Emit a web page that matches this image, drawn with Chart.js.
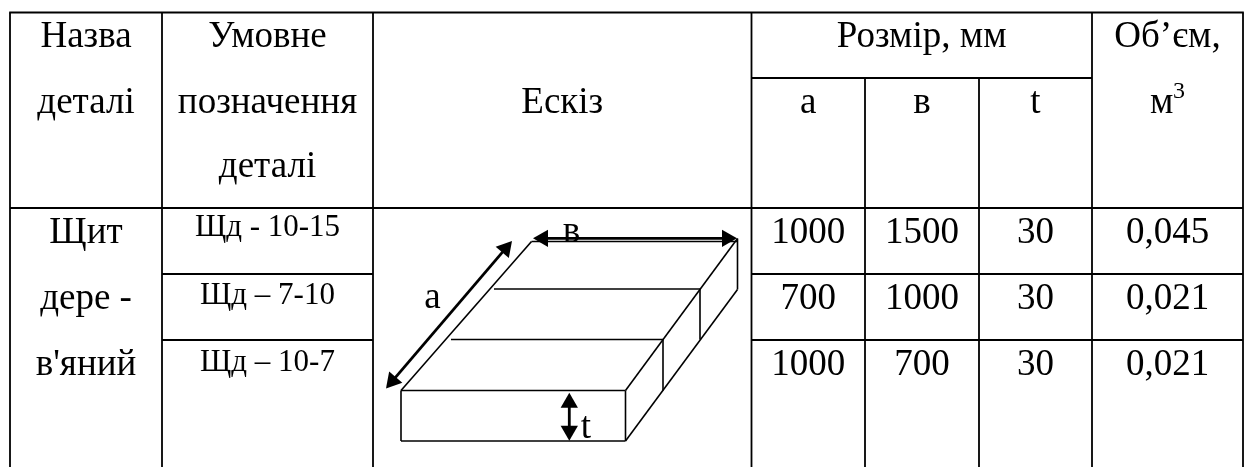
<!DOCTYPE html>
<html>
<head>
<meta charset="utf-8">
<title>Щит дерев'яний</title>
<script src="https://cdn.jsdelivr.net/npm/chart.js@4"></script>
<style>
    html, body { margin: 0; padding: 0; background: #fff; overflow: hidden; }
    canvas { display: block; }
</style>
</head>
<body>
<canvas id="tableChart" width="1246" height="467"></canvas>
<script>
// table contents
const headName = ['Назва', 'деталі'];
const headCode = ['Умовне', 'позначення', 'деталі'];
const headSketch = 'Ескіз';
const headSize = 'Розмір, мм';
const headSizeCols = ['a', 'в', 't'];
const headVolume = ['Об’єм,', 'м'];
const headVolumePower = '3';
const partName = ['Щит', 'дере -', 'в\'яний'];
const partCodes = ['Щд - 10-15', 'Щд – 7-10', 'Щд – 10-7'];
const sizeA = ['1000', '700', '1000'];
const sizeB = ['1500', '1000', '700'];
const sizeT = ['30', '30', '30'];
const volumes = ['0,045', '0,021', '0,021'];

// layout on the chart's own x/y scales
const colEdges = [10, 162, 373, 751.5, 865, 979, 1092, 1243];
const rowEdges = [12.5, 78, 208, 274, 340, 467];
const FONT = '"Liberation Serif", "Times New Roman", serif';
const BIG = 37, SMALL = 31;

function seg(x1, y1, x2, y2) {
    return [{ x: x1, y: y1 }, { x: x2, y: y2 }];
}

const c = colEdges, r = rowEdges;
const gridLines = [
    seg(c[0] - 0.8, r[0], c[7] + 0.8, r[0]),
    seg(c[3], r[1], c[6], r[1]),
    seg(c[0], r[2], c[7], r[2]),
    seg(c[1], r[3], c[2], r[3]),
    seg(c[3], r[3], c[7], r[3]),
    seg(c[1], r[4], c[2], r[4]),
    seg(c[3], r[4], c[7], r[4]),
    seg(c[0], r[0], c[0], r[5]),
    seg(c[1], r[0], c[1], r[5]),
    seg(c[2], r[0], c[2], r[5]),
    seg(c[3], r[0], c[3], r[5]),
    seg(c[4], r[1], c[4], r[5]),
    seg(c[5], r[1], c[5], r[5]),
    seg(c[6], r[0], c[6], r[5]),
    seg(c[7], r[0], c[7], r[5])
];

// the board sketch
const sketchLines = [
    seg(531.5, 241.5, 737.5, 241.5),
    seg(531.5, 241.5, 401, 390.5),
    seg(401, 390.5, 625.5, 390.5),
    seg(401, 390.5, 401, 441),
    seg(401, 441, 625.5, 441),
    seg(625.5, 390.5, 625.5, 441),
    seg(625.5, 390.5, 737.5, 238.5),
    seg(625.5, 441, 737.5, 289.5),
    seg(737.5, 238.5, 737.5, 289.5),
    seg(494, 289, 700, 289),
    seg(700, 289, 700, 339.5),
    seg(451, 339.5, 663, 339.5),
    seg(663, 339.5, 663, 390.5)
];
const arrowShafts = [
    seg(392.5, 380.9, 505.5, 248.6),
    seg(543, 238.3, 727, 238.3),
    seg(569.3, 402.7, 569.3, 430.7)
];
const arrowHeads = [
    { x: 392.5, y: 380.9, angle: 220.5 },
    { x: 505.5, y: 248.6, angle: 40.5 },
    { x: 543, y: 238.3, angle: 270 },
    { x: 727, y: 238.3, angle: 90 },
    { x: 569.3, y: 402.7, angle: 0 },
    { x: 569.3, y: 430.7, angle: 180 }
];

function lineSet(points, width) {
    return {
        type: 'scatter',
        data: points,
        showLine: true,
        borderColor: '#000',
        borderWidth: width,
        pointRadius: 0
    };
}

const cellText = [];
function put(text, x, y, size, align) {
    cellText.push({ text, x, y, size, align: align || 'center' });
}
function mid(i, j) {
    return (colEdges[i] + colEdges[j]) / 2;
}

headName.forEach((t, i) => put(t, mid(0, 1), [47, 112.5][i], BIG));
headCode.forEach((t, i) => put(t, mid(1, 2), [47, 112.5, 177][i], BIG));
put(headSketch, mid(2, 3), 112.5, BIG);
put(headSize, mid(3, 6), 47, BIG);
headSizeCols.forEach((t, i) => put(t, mid(3 + i, 4 + i), 112.5, BIG));
put(headVolume[0], mid(6, 7), 47, BIG);
put(headVolume[1], 1150, 112.5, BIG, 'left');
put(headVolumePower, 1173, 98, 24, 'left');

const rowBase = [243, 309, 375];
partName.forEach((t, i) => put(t, mid(0, 1), rowBase[i], BIG));
partCodes.forEach((t, i) => put(t, mid(1, 2), [236, 304, 370.5][i], SMALL));
sizeA.forEach((t, i) => put(t, mid(3, 4), rowBase[i], BIG));
sizeB.forEach((t, i) => put(t, mid(4, 5), rowBase[i], BIG));
sizeT.forEach((t, i) => put(t, mid(5, 6), rowBase[i], BIG));
volumes.forEach((t, i) => put(t, mid(6, 7), rowBase[i], BIG));

// labels inside the sketch
put('a', 432.5, 308, BIG);
put('в', 571.5, 241.5, BIG);
put('t', 586, 438, BIG);

const tableText = {
    id: 'tableText',
    afterDatasetsDraw(chart) {
        const ctx = chart.ctx;
        const xs = chart.scales.x, ys = chart.scales.y;
        ctx.save();
        ctx.fillStyle = '#000';
        ctx.textBaseline = 'alphabetic';
        cellText.forEach(d => {
            ctx.font = d.size + 'px ' + FONT;
            ctx.textAlign = d.align;
            ctx.fillText(d.text, xs.getPixelForValue(d.x), ys.getPixelForValue(d.y));
        });
        ctx.restore();
    }
};

new Chart(document.getElementById('tableChart').getContext('2d'), {
    type: 'scatter',
    data: {
        datasets: [
            ...gridLines.map(p => lineSet(p, 1.8)),
            ...sketchLines.map(p => lineSet(p, 1.6)),
            ...arrowShafts.map(p => lineSet(p, 2.8)),
            {
                type: 'scatter',
                data: arrowHeads,
                pointStyle: 'triangle',
                pointRadius: 10,
                pointRotation: arrowHeads.map(a => a.angle),
                backgroundColor: '#000',
                borderWidth: 0
            }
        ]
    },
    options: {
        responsive: false,
        animation: false,
        layout: { padding: 0, autoPadding: false },
        events: [],
        plugins: {
            legend: { display: false },
            tooltip: { enabled: false }
        },
        scales: {
            x: { type: 'linear', display: false, min: 0, max: 1246 },
            y: { type: 'linear', display: false, min: 0, max: 467, reverse: true }
        }
    },
    plugins: [tableText]
});
</script>
</body>
</html>
